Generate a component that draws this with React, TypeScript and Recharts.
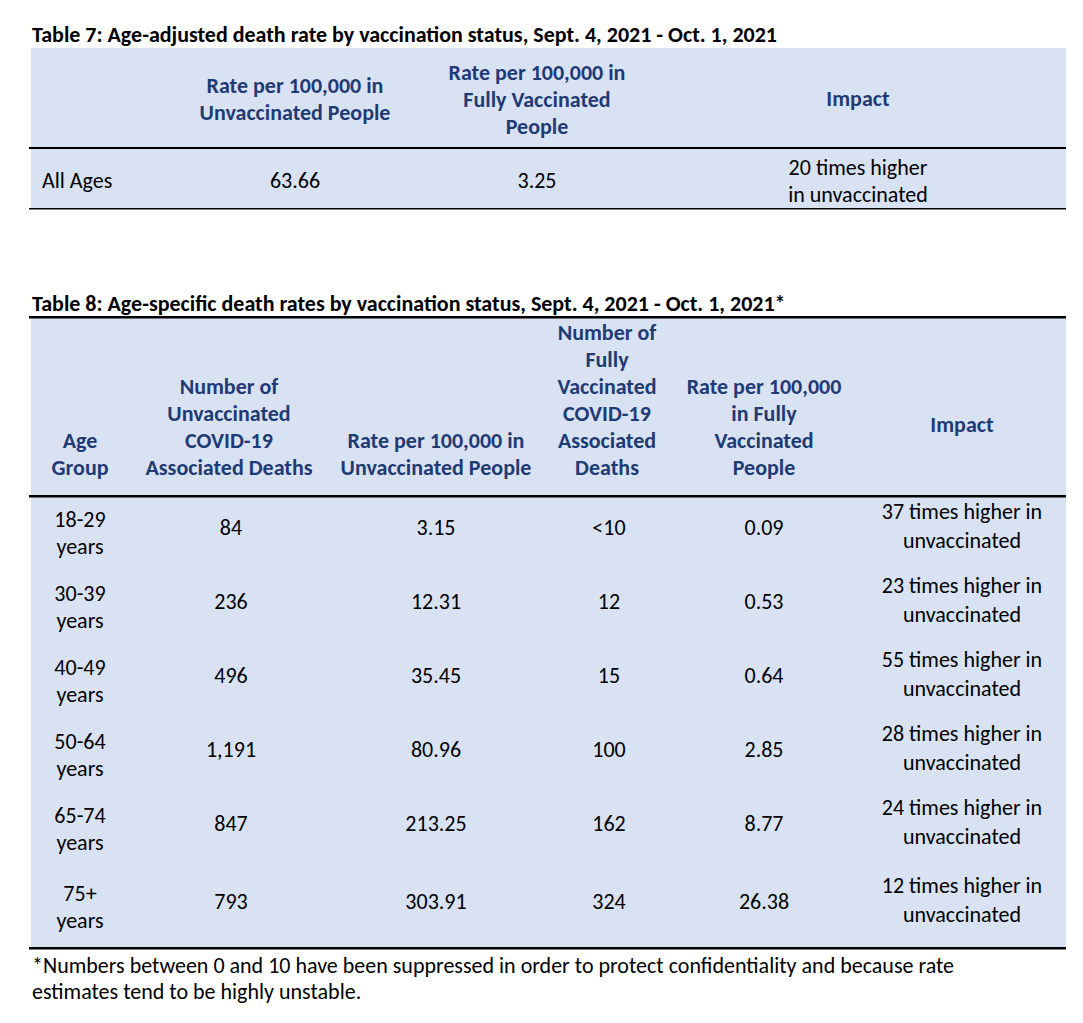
import { Surface, Layer, Rectangle, Text } from 'recharts';

// Table 7
const t7Title = 'Table 7: Age-adjusted death rate by vaccination status, Sept. 4, 2021 - Oct. 1, 2021';
const t7HeadUnvax = ['Rate per 100,000 in', 'Unvaccinated People'];
const t7HeadVax = ['Rate per 100,000 in', 'Fully Vaccinated', 'People'];
const t7HeadImpact = ['Impact'];
const t7Label = 'All Ages';
const t7UnvaxRate = '63.66';
const t7VaxRate = '3.25';
const t7Impact = ['20 times higher', 'in unvaccinated'];

// Table 8
const t8Title = 'Table 8: Age-specific death rates by vaccination status, Sept. 4, 2021 - Oct. 1, 2021*';
const t8Headers = [
  ['Age', 'Group'],
  ['Number of', 'Unvaccinated', 'COVID-19', 'Associated Deaths'],
  ['Rate per 100,000 in', 'Unvaccinated People'],
  ['Number of', 'Fully', 'Vaccinated', 'COVID-19', 'Associated', 'Deaths'],
  ['Rate per 100,000', 'in Fully', 'Vaccinated', 'People'],
];
const t8HeadImpact = 'Impact';
const ageGroups = ['18-29', '30-39', '40-49', '50-64', '65-74', '75+'];
const unvaxDeaths = ['84', '236', '496', '1,191', '847', '793'];
const unvaxRates = ['3.15', '12.31', '35.45', '80.96', '213.25', '303.91'];
const vaxDeaths = ['<10', '12', '15', '100', '162', '324'];
const vaxRates = ['0.09', '0.53', '0.64', '2.85', '8.77', '26.38'];
const timesHigher = [37, 23, 55, 28, 24, 12];
const footnote = [
  '*Numbers between 0 and 10 have been suppressed in order to protect confidentiality and because rate',
  'estimates tend to be highly unstable.',
];

const FONT = 'Carlito, Calibri, Lato, sans-serif';
const BG = '#D9E2F3';
const HEAD = '#1F3B75';
const LEFT = 31;
const RIGHT = 1066;
const LH = 27;
const SIZE = 22;

function Lines({ lines, x, y, anchor = 'middle', bold = false, color = '#000', size = SIZE, lh = LH }: any) {
  return (
    <>
      {lines.map((s: string, i: number) => (
        <Text
          key={i}
          x={x}
          y={y + i * lh}
          textAnchor={anchor}
          verticalAnchor="middle"
          fontFamily={FONT}
          fontSize={size}
          fontWeight={bold ? 700 : 400}
          fill={color}
        >
          {s}
        </Text>
      ))}
    </>
  );
}

const t8Centers = [80, 229, 436, 607, 764, 962];
const rowHeights = [74, 74, 74, 74, 74, 82];

export default function App() {
  const rowTop0 = 497;
  const rows = rowHeights.map((h, i) => {
    const top = rowTop0 + rowHeights.slice(0, i).reduce((a, b) => a + b, 0);
    return { top, c: top + h / 2 - 1 };
  });
  return (
    <div style={{ position: 'absolute', left: 0, top: 0, background: '#fff' }}>
      <Surface width={1083} height={1023}>
        <Rectangle x={0} y={0} width={1083} height={1023} fill="#fff" />

        {/* Table 7 */}
        <Lines lines={[t7Title]} x={32} y={34} anchor="start" bold />
        <Rectangle x={LEFT} y={48} width={RIGHT - LEFT} height={161} fill={BG} />
        <Rectangle x={29} y={147} width={RIGHT - 29} height={2} fill="#000" />
        <Rectangle x={29} y={208} width={RIGHT - 29} height={1.5} fill="#000" />
        <Layer>
          <Lines lines={t7HeadUnvax} x={295} y={85} bold color={HEAD} />
          <Lines lines={t7HeadVax} x={537} y={72} bold color={HEAD} />
          <Lines lines={t7HeadImpact} x={858} y={98} bold color={HEAD} />
          <Lines lines={[t7Label]} x={42} y={180} anchor="start" />
          <Lines lines={[t7UnvaxRate]} x={295} y={180} />
          <Lines lines={[t7VaxRate]} x={537} y={180} />
          <Lines lines={t7Impact} x={858} y={167} />
        </Layer>

        {/* Table 8 */}
        <Lines lines={[t8Title]} x={32} y={303} anchor="start" bold />
        <Rectangle x={LEFT} y={318} width={RIGHT - LEFT} height={630} fill={BG} />
        <Rectangle x={29} y={316} width={RIGHT - 29} height={2.5} fill="#000" />
        <Rectangle x={29} y={495} width={RIGHT - 29} height={2.5} fill="#000" />
        <Rectangle x={29} y={947} width={RIGHT - 29} height={2.5} fill="#000" />
        <Layer>
          {t8Headers.map((lines, i) => (
            <Lines key={i} lines={lines} x={t8Centers[i]} y={467 - (lines.length - 1) * LH} bold color={HEAD} />
          ))}
          <Lines lines={[t8HeadImpact]} x={t8Centers[5]} y={424} bold color={HEAD} />
          {rows.map((r, i) => (
            <Layer key={i}>
              <Lines lines={[ageGroups[i], 'years']} x={t8Centers[0]} y={r.c - 14} />
              <Lines lines={[unvaxDeaths[i]]} x={231} y={r.c - 6} />
              <Lines lines={[unvaxRates[i]]} x={t8Centers[2]} y={r.c - 6} />
              <Lines lines={[vaxDeaths[i]]} x={609} y={r.c - 6} />
              <Lines lines={[vaxRates[i]]} x={t8Centers[4]} y={r.c - 6} />
              <Lines
                lines={[`${timesHigher[i]} times higher in`, 'unvaccinated']}
                x={t8Centers[5]}
                y={r.c - 22}
                lh={29}
              />
            </Layer>
          ))}
        </Layer>

        <Lines lines={footnote} x={32} y={965} anchor="start" lh={26} />
      </Surface>
    </div>
  );
}
